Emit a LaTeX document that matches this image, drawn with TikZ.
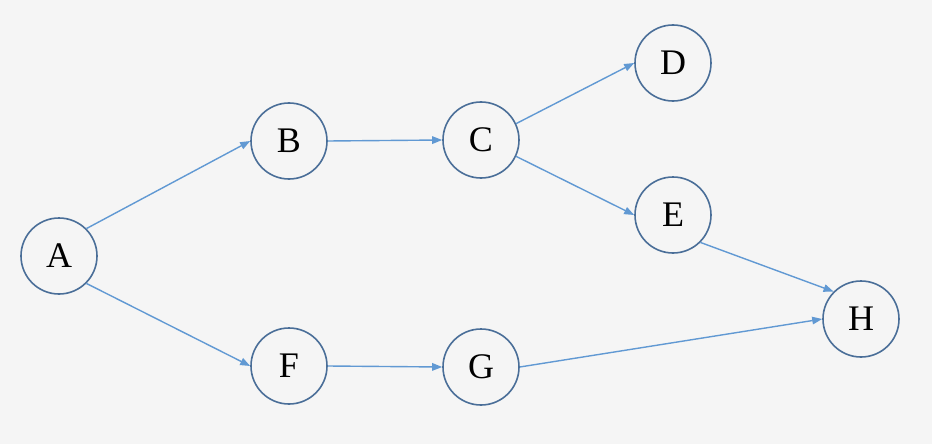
\documentclass[tikz,border=0pt]{standalone}
\usepackage{fontspec}
\setmainfont{Liberation Serif}
\usetikzlibrary{arrows.meta}
\definecolor{bg}{HTML}{F5F5F5}
\definecolor{ring}{HTML}{4A6E98}
\definecolor{edge}{HTML}{6199D3}
\begin{document}
\begin{tikzpicture}[x=1pt,y=-1pt,
  vnode/.style={circle,draw=ring,line width=1.6pt,minimum size=76pt,inner sep=0pt,font=\fontsize{36}{36}\selectfont},
  conn/.style={draw=edge,line width=1.4pt,-{Triangle[length=10pt,width=7.5pt]}}]
\fill[bg] (0,0) rectangle (932,444);
\useasboundingbox (0,0) rectangle (932,444);
\node[vnode] (A) at (59,256) {A};
\node[vnode] (B) at (289,141) {B};
\node[vnode] (C) at (481,140) {C};
\node[vnode] (D) at (673,63) {D};
\node[vnode] (E) at (673,215) {E};
\node[vnode] (F) at (289,366) {F};
\node[vnode] (G) at (481,367) {G};
\node[vnode] (H) at (861,319) {H};
\draw[conn] (A.north east) -- (B.west);
\draw[conn] (A.south east) -- (F.west);
\draw[conn] (B.east) -- (C.west);
\draw[conn] (C.25) -- (D.west);
\draw[conn] (C.-25) -- (E.west);
\draw[conn] (E.south east) -- (H.north west);
\draw[conn] (F.east) -- (G.west);
\draw[conn] (G.east) -- (H.west);
\end{tikzpicture}
\end{document}
